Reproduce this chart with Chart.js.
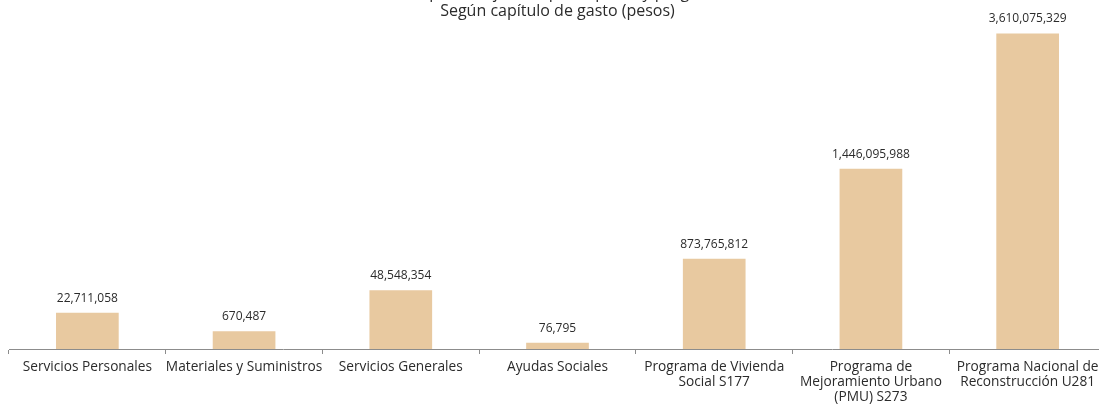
<!DOCTYPE html>
<html>
<head>
<meta charset="utf-8">
<script src="https://cdn.jsdelivr.net/npm/chart.js@4/dist/chart.umd.min.js"></script>
<style>
  html, body { margin: 0; padding: 0; background: #ffffff; overflow: hidden; width: 1099px; height: 405px; }
  #wrap { position: absolute; left: 0; top: -16px; width: 1115px; height: 428px; }
</style>
</head>
<body>
<div id="wrap"><canvas id="c"></canvas></div>
<script>
const tituloLineas = ["Presupuesto ejercido por capítulo y programa", "Según capítulo de gasto (pesos)"];
const categorias = [
  "Servicios Personales",
  "Materiales y Suministros",
  "Servicios Generales",
  "Ayudas Sociales",
  ["Programa de Vivienda", "Social S177"],
  ["Programa de", "Mejoramiento Urbano", "(PMU) S273"],
  ["Programa Nacional de", "Reconstrucción U281"]
];
// Values printed above each bar (pesos)
const presupuesto = [22711058, 670487, 48548354, 76795, 873765812, 1446095988, 3610075329];
// Bar heights as drawn in the picture (relative units, largest bar = 100)
const alturaBarra = [11.5, 5.6, 18.6, 2.0, 28.6, 57.1, 100];

const etiquetas = {
  id: 'etiquetas',
  afterDatasetsDraw(chart) {
    const ctx = chart.ctx;
    const meta = chart.getDatasetMeta(0);
    ctx.save();
    ctx.font = '12px "Open Sans"';
    ctx.fillStyle = '#2b2b2b';
    ctx.textAlign = 'center';
    ctx.textBaseline = 'alphabetic';
    meta.data.forEach((bar, i) => {
      ctx.fillText(presupuesto[i].toLocaleString('en-US'), bar.x, bar.y - 11);
    });
    ctx.restore();
  }
};

new Chart(document.getElementById('c'), {
  type: 'bar',
  data: {
    labels: categorias,
    datasets: [{
      data: alturaBarra,
      backgroundColor: '#E8C9A0',
      borderWidth: 0,
      barPercentage: 0.4,
      categoryPercentage: 1.0
    }]
  },
  options: {
    responsive: true,
    maintainAspectRatio: false,
    animation: false,
    devicePixelRatio: 1,
    events: [],
    layout: { padding: { left: 9, right: 9, top: 0, bottom: 2 } },
    plugins: {
      legend: { display: false },
      tooltip: { enabled: false },
      title: {
        display: true,
        text: tituloLineas,
        color: '#2b2b2b',
        font: { family: 'Open Sans', size: 16, weight: 'normal', lineHeight: 1.15 },
        padding: { top: 0, bottom: 0 }
      }
    },
    scales: {
      x: {
        grid: { display: true, drawOnChartArea: false, drawTicks: true, tickLength: 5, color: '#8c8c8c' },
        border: { display: true, color: '#8c8c8c', width: 1 },
        ticks: {
          color: '#2b2b2b',
          font: { family: 'Open Sans', size: 13.7, lineHeight: 1.07 },
          padding: 6,
          maxRotation: 0,
          autoSkip: false
        }
      },
      y: {
        display: false,
        min: 0,
        max: 104.0
      }
    }
  },
  plugins: [etiquetas]
});
</script>
</body>
</html>
